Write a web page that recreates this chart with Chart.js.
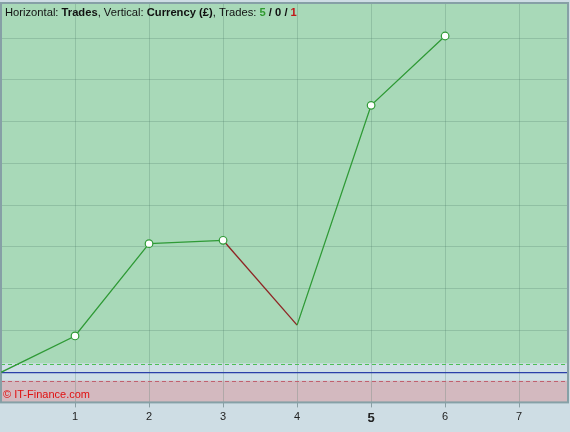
<!DOCTYPE html>
<html>
<head>
<meta charset="utf-8">
<script src="https://cdn.jsdelivr.net/npm/chart.js@4"></script>
<style>
  html, body { margin: 0; padding: 0; background: #cedde4; }
  #wrap { width: 570px; height: 432px; position: relative; }
</style>
</head>
<body>
<div id="wrap"><canvas id="equityChart" width="570" height="432"></canvas></div>
<script>
// Trade number on the horizontal axis, running balance on the vertical one
const trades = [0, 1, 2, 3, 4, 5, 6];
const balance = [0, 87, 308, 316, 113, 639, 805];
// result of each trade 1..6
const results = ['win', 'win', 'win', 'loss', 'win', 'win'];
const xTicks = [1, 2, 3, 4, 5, 6, 7];
const winLevel = 21;
const lossLevel = -20;

const GREEN = '#2f9a36';
const RED = '#8e2424';

const points = trades.map((t, i) => ({ x: t, y: balance[i] }));

// Backgrounds, bands, dashed levels, border and captions
const bandsPlugin = {
    id: 'bands',
    beforeDraw(chart) {
        const { ctx, chartArea: a, scales: { y } } = chart;
        ctx.save();
        const yWin = y.getPixelForValue(winLevel);
        const yLoss = y.getPixelForValue(lossLevel);
        ctx.fillStyle = '#a8d9b8';
        ctx.fillRect(a.left, a.top, a.width, yWin - a.top);
        ctx.fillStyle = '#cfdfe6';
        ctx.fillRect(a.left, yWin, a.width, yLoss - yWin);
        ctx.fillStyle = '#d3b9bf';
        ctx.fillRect(a.left, yLoss, a.width, a.bottom - yLoss);
        ctx.restore();
    },
    beforeDatasetsDraw(chart) {
        const { ctx, chartArea: a, scales: { y } } = chart;
        ctx.save();
        ctx.lineWidth = 1;
        ctx.setLineDash([4, 3]);
        ctx.strokeStyle = '#4cbf55';
        let py = Math.round(y.getPixelForValue(winLevel)) + 0.5;
        ctx.beginPath(); ctx.moveTo(a.left, py); ctx.lineTo(a.right, py); ctx.stroke();
        ctx.strokeStyle = '#c0606e';
        py = Math.round(y.getPixelForValue(lossLevel)) + 0.5;
        ctx.beginPath(); ctx.moveTo(a.left, py); ctx.lineTo(a.right, py); ctx.stroke();
        ctx.setLineDash([]);
        // plot border
        ctx.strokeStyle = '#86a0a6';
        ctx.lineWidth = 2;
        ctx.strokeRect(a.left, a.top, a.width, a.height);
        // header
        const parts = [
            ['Horizontal: ', 'normal', '#111'],
            ['Trades', 'bold', '#111'],
            [', Vertical: ', 'normal', '#111'],
            ['Currency (\u00a3)', 'bold', '#111'],
            [', Trades: ', 'normal', '#111'],
            ['5', 'bold', '#2f9a2f'],
            [' / ', 'bold', '#111'],
            ['0', 'bold', '#111'],
            [' / ', 'bold', '#111'],
            ['1', 'bold', '#c01818']
        ];
        let x = a.left + 4;
        ctx.textBaseline = 'alphabetic';
        parts.forEach(([txt, w, c]) => {
            ctx.font = w + ' 11.2px "Liberation Sans", Arial, sans-serif';
            ctx.fillStyle = c;
            ctx.fillText(txt, x, a.top + 13);
            x += ctx.measureText(txt).width;
        });
        // watermark
        ctx.font = '11px "Liberation Sans", Arial, sans-serif';
        ctx.fillStyle = '#e01010';
        ctx.fillText('\u00a9 IT-Finance.com', a.left + 2, a.bottom - 4);
        ctx.restore();
    }
};

new Chart(document.getElementById('equityChart').getContext('2d'), {
    type: 'line',
    data: {
        datasets: [{
            data: points,
            borderColor: GREEN,
            borderWidth: 1.3,
            tension: 0,
            segment: {
                borderColor: ctx => results[ctx.p0DataIndex] === 'loss' ? RED : GREEN
            },
            pointRadius: ctx => (ctx.dataIndex > 0 && results[ctx.dataIndex - 1] === 'win') ? 3.8 : 0,
            pointBackgroundColor: '#ffffff',
            pointBorderColor: GREEN,
            pointBorderWidth: 1.2
        }]
    },
    plugins: [bandsPlugin],
    options: {
        responsive: false,
        animation: false,
        layout: { autoPadding: false, padding: { left: 1, right: 2, top: 3, bottom: 3 } },
        plugins: {
            legend: { display: false },
            tooltip: { enabled: false }
        },
        scales: {
            x: {
                type: 'linear',
                min: 0,
                max: 7.66,
                afterBuildTicks: axis => { axis.ticks = xTicks.map(v => ({ value: v })); },
                grid: {
                    color: 'rgba(70,120,100,0.25)',
                    tickColor: '#8a9ea4',
                    tickLength: 5,
                    drawOnChartArea: true
                },
                border: { display: false },
                ticks: {
                    color: '#222',
                    padding: 3,
                    font: ctx => ctx.tick && ctx.tick.value === 5
                        ? { family: '"Liberation Sans", Arial, sans-serif', size: 13, weight: 'bold' }
                        : { family: '"Liberation Sans", Arial, sans-serif', size: 11 }
                }
            },
            y: {
                min: -72,
                max: 884,
                afterFit: axis => { axis.width = 0; },
                ticks: { display: false, stepSize: 100 },
                grid: {
                    drawTicks: false,
                    color: ctx => ctx.tick.value === 0 ? '#2b3fa8'
                        : (ctx.tick.value % 100 === 0 ? 'rgba(70,120,100,0.25)' : 'transparent'),
                    lineWidth: ctx => ctx.tick.value === 0 ? 1.2 : 1
                },
                border: { display: false }
            }
        }
    }
});
</script>
</body>
</html>
